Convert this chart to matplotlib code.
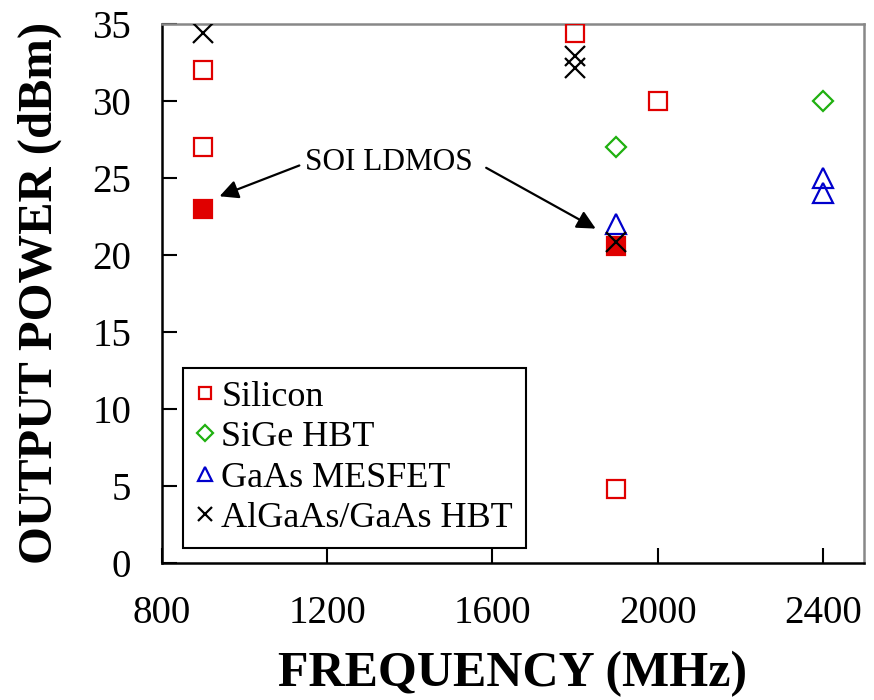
import matplotlib
matplotlib.use("Agg")
import matplotlib.pyplot as plt

# data
si_freq = [900, 900, 1800, 2000, 1900]
si_pout = [32.0, 27.0, 34.4, 30.0, 4.8]
soi_freq = [900, 1900]
soi_pout = [23.0, 20.6]
sige_freq = [1900, 2400]
sige_pout = [27.0, 30.0]
gaas_freq = [1900, 2400, 2400]
gaas_pout = [22.0, 25.0, 24.0]
hbt_freq = [900, 1800, 1800, 1900]
hbt_pout = [34.4, 32.9, 32.1, 20.8]

x_ticks = [800, 1200, 1600, 2000, 2400]
y_ticks = [0, 5, 10, 15, 20, 25, 30, 35]

RED = "#e00000"
GREEN = "#20b010"
BLUE = "#0000cc"

plt.rcParams["font.family"] = ["Liberation Serif", "DejaVu Serif"]

fig = plt.figure(figsize=(8.74, 7.0), dpi=100)
ax = fig.add_axes([0.185, 0.196, 0.804, 0.770])

ms = 12.5
mew = 1.6
ax.plot(si_freq, si_pout, ls="none", marker="s", ms=ms, mfc="none", mec=RED, mew=mew,
        label="Silicon", zorder=3)
ax.plot(sige_freq, sige_pout, ls="none", marker="D", ms=ms * 0.85, mfc="none", mec=GREEN,
        mew=mew, label="SiGe HBT", zorder=3)
ax.plot(gaas_freq, gaas_pout, ls="none", marker="^", ms=ms * 1.15, mfc="none", mec=BLUE,
        mew=mew, label="GaAs MESFET", zorder=3)
ax.plot(soi_freq, soi_pout, ls="none", marker="s", ms=ms, mfc=RED, mec=RED, mew=mew, zorder=3)
ax.plot(hbt_freq, hbt_pout, ls="none", marker="x", ms=ms * 1.1, color="black", mew=mew,
        label="AlGaAs/GaAs HBT", zorder=4)

ax.set_xlim(800, 2500)
ax.set_ylim(0, 35)
ax.set_xticks(x_ticks)
ax.set_yticks(y_ticks)
ax.tick_params(direction="in", length=11, width=1.5, labelsize=28)
ax.tick_params(axis="y", pad=22)
ax.tick_params(axis="x", pad=23)

for side in ("left", "bottom"):
    ax.spines[side].set_linewidth(1.8)
    ax.spines[side].set_color("black")
for side in ("top", "right"):
    ax.spines[side].set_linewidth(1.8)
    ax.spines[side].set_color("#888888")

ax.set_xlabel("FREQUENCY (MHz)", fontsize=36, fontweight="bold", labelpad=14)
ax.set_ylabel("OUTPUT POWER (dBm)", fontsize=35, fontweight="bold", labelpad=22)

ax.text(1349, 26.0, "SOI LDMOS", fontsize=22.5, ha="center", va="center")
arrow = dict(arrowstyle="-|>", color="black", lw=1.6, mutation_scale=28,
             shrinkA=0, shrinkB=0)
ax.annotate("", xy=(940, 23.8), xytext=(1133, 25.8), arrowprops=arrow)
ax.annotate("", xy=(1850, 21.7), xytext=(1585, 25.65), arrowprops=arrow)

leg = ax.legend(loc="lower left", bbox_to_anchor=(0.031, 0.028), borderaxespad=0,
                fontsize=26, markerscale=0.72, handlelength=0.5, handletextpad=0.2,
                labelspacing=0.2, borderpad=0.35, fancybox=False, framealpha=1)
leg.get_frame().set_edgecolor("black")
leg.get_frame().set_linewidth(1.5)

fig.savefig("out.png", dpi=100)
